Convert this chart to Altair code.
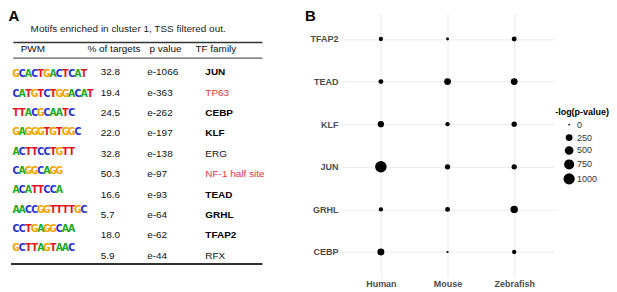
import altair as alt
import pandas as pd

# ---------------- Panel A data (table) ----------------
table_title = "Motifs enriched in cluster 1, TSS filtered out."
header_labels = ["PWM", "% of targets", "p value", "TF family"]
motif_consensus = ["GCACTGACTCAT", "CATGTCTGGACAT", "TTACGCAATC", "GAGGGTGTGGC",
                   "ACTTCCTGTT", "CAGGCAGG", "ACATTCCA", "AACCGGTTTTGC",
                   "CCTGAGGCAA", "GCTTAGTAAC"]
pct_targets = ["32.8", "19.4", "24.5", "22.0", "32.8", "50.3", "16.6", "5.7", "18.0", "5.9"]
p_values = ["e-1066", "e-363", "e-262", "e-197", "e-138", "e-97", "e-93", "e-64", "e-62", "e-44"]
tf_family = ["JUN", "TP63", "CEBP", "KLF", "ERG", "NF-1 half site", "TEAD", "GRHL", "TFAP2", "RFX"]
family_style = ["bold", "red", "bold", "bold", "plain", "red", "bold", "bold", "bold", "plain"]
nucleotides = ["A", "C", "G", "T"]

# ---------------- Panel B data (dot plot) ----------------
species = ["Human", "Mouse", "Zebrafish"]
families_b = ["TFAP2", "TEAD", "KLF", "JUN", "GRHL", "CEBP"]
human_nlp = [62, 93, 197, 1066, 64, 262]
mouse_nlp = [15, 247, 64, 120, 96, 4]
zebrafish_nlp = [96, 247, 120, 120, 317, 64]
legend_values = [0, 250, 500, 750, 1000]

# ---------------- layout / style ----------------
FONT = "Liberation Sans"
LOGO_FONT = "Liberation Sans Narrow, DejaVu Sans Condensed, Arial Narrow, sans-serif"
LEFT_W, PLOT_H, RIGHT_W = 297, 265, 214
header_x = [12.7, 79.7, 142, 188]
pct_x, pval_x, fam_x = 93, 139.7, 198
title_x, title_row, header_row = 22.7, -2.112, -1.134
rule_rows = [-1.457, -0.694, 9.413]
rule_spans = [(5.3, 255.3), (5.3, 255.3), (3, 255.3)]
rule_widths = [1.6, 1.0, 2.0]
nuc_colors = ["#22a822", "#1f2fd6", "#f5a300", "#e3151d"]
red = "#e8353d"

x_tab = alt.Scale(domain=[0, LEFT_W], nice=False, zero=False)
y_tab = alt.Scale(domain=[-2.885, 10.073], reverse=True, nice=False, zero=False)
x_logo = alt.Scale(domain=[-1.306, 46.6], nice=False, zero=False)
y_logo = alt.Scale(domain=[-3.144, 10.515], reverse=True, nice=False, zero=False)

def X(f, s=x_tab):
    return alt.X(f, scale=s, axis=None)

def Y(f, s=y_tab):
    return alt.Y(f, scale=s, axis=None)

# title (carries the "A" panel label as its axis title)
title_df = pd.DataFrame({"x": [title_x], "y": [title_row], "t": [table_title]})
title_layer = alt.Chart(title_df).mark_text(align="left", baseline="middle", fontSize=10,
                                            color="#222222", font=FONT).encode(
    x=X("x:Q"),
    y=alt.Y("y:Q", scale=y_tab, axis=alt.Axis(
        title="A", labels=False, ticks=False, domain=False, grid=False,
        titleAngle=0, titleAlign="left", titleBaseline="top", titleX=0, titleY=-4.5,
        titleFontSize=15, titleFontWeight="bold", titleColor="black", titleFont=FONT)),
    text="t:N")

header_df = pd.DataFrame({"x": header_x, "y": [header_row] * 4, "t": header_labels})
header_layer = alt.Chart(header_df).mark_text(align="left", baseline="middle", fontSize=10,
                                              color="#111111", font=FONT).encode(
    x=X("x:Q"), y=Y("y:Q"), text="t:N")

rows = list(range(len(tf_family)))
vals_df = pd.DataFrame({
    "x": [pct_x] * len(rows) + [pval_x] * len(rows),
    "y": rows + rows,
    "t": pct_targets + p_values})
vals_layer = alt.Chart(vals_df).mark_text(align="left", baseline="middle", fontSize=10,
                                          color="#111111", font=FONT).encode(
    x=X("x:Q"), y=Y("y:Q"), text="t:N")

fam_df = pd.DataFrame({"x": [fam_x] * len(rows), "y": rows, "t": tf_family, "s": family_style})
fam_bold = alt.Chart(fam_df).transform_filter(alt.datum.s == "bold").mark_text(
    align="left", baseline="middle", fontSize=10, fontWeight="bold", color="black", font=FONT
).encode(x=X("x:Q"), y=Y("y:Q"), text="t:N")
fam_plain = alt.Chart(fam_df).transform_filter(alt.datum.s != "bold").mark_text(
    align="left", baseline="middle", fontSize=10, font=FONT
).encode(x=X("x:Q"), y=Y("y:Q"), text="t:N",
         color=alt.Color("s:N", scale=alt.Scale(domain=["red", "plain"], range=[red, "#111111"]),
                         legend=None))

rule_layers = []
for (x1, x2), yv, w in zip(rule_spans, rule_rows, rule_widths):
    rdf = pd.DataFrame({"x": [x1], "x2": [x2], "y": [yv]})
    rule_layers.append(alt.Chart(rdf).mark_rule(color="#333333", strokeWidth=w).encode(
        x=X("x:Q"), x2="x2:Q", y=Y("y:Q")))

logo_rows = []
for r, seq in enumerate(motif_consensus):
    for i, ch in enumerate(seq):
        logo_rows.append({"li": i, "lr": r, "nt": ch})
logo_df = pd.DataFrame(logo_rows)
logo_layer = alt.Chart(logo_df).mark_text(baseline="middle", align="center", fontSize=10.5,
                                          fontWeight="bold", font=LOGO_FONT).encode(
    x=alt.X("li:Q", scale=x_logo, axis=None),
    y=alt.Y("lr:Q", scale=y_logo, axis=None),
    text="nt:N",
    color=alt.Color("nt:N", scale=alt.Scale(domain=nucleotides, range=nuc_colors), legend=None))

left = alt.layer(title_layer, header_layer, vals_layer, fam_bold, fam_plain,
                 *rule_layers, logo_layer).resolve_scale(
    x="independent", y="independent", color="independent").properties(
    width=LEFT_W, height=PLOT_H)

# ---------------- Panel B ----------------
dot_df = pd.DataFrame({
    "species": [s for s in species for _ in families_b],
    "family": families_b * len(species),
    "nlp": human_nlp + mouse_nlp + zebrafish_nlp})

right = alt.Chart(dot_df).mark_circle(color="black", opacity=1).encode(
    x=alt.X("species:N", scale=alt.Scale(domain=species, padding=0.6),
            axis=alt.Axis(title=None, labelAngle=0, labelFontWeight="bold", labelColor="#4d4d4d",
                          labelFontSize=9, labelFont=FONT, ticks=False, domain=False,
                          grid=True, gridColor="#ebebeb", gridWidth=1, labelPadding=2)),
    y=alt.Y("family:N", scale=alt.Scale(domain=families_b, padding=0.6),
            axis=alt.Axis(title="B", labelFontWeight="bold", labelColor="#4d4d4d",
                          labelFontSize=9, labelFont=FONT, ticks=False, domain=False,
                          grid=True, gridColor="#ebebeb", gridWidth=1, labelPadding=3,
                          titleAngle=0, titleAlign="left", titleBaseline="top",
                          titleX=-36.5, titleY=-4.5, titleFontSize=15, titleFontWeight="bold",
                          titleColor="black", titleFont=FONT)),
    size=alt.Size("nlp:Q", scale=alt.Scale(type="pow", exponent=0.75, domain=[0, 1066],
                                           range=[3, 133], zero=False, nice=False),
                  legend=alt.Legend(title="-log(p-value)", values=legend_values, format="d",
                                    orient="none", legendX=549, legendY=95, titleFontSize=9,
                                    titleFontWeight="bold", titleColor="black", titleFont=FONT,
                                    labelFontSize=9, labelColor="#333333", labelFont=FONT,
                                    symbolFillColor="black", symbolStrokeWidth=0,
                                    symbolOpacity=1, titlePadding=3, rowPadding=3,
                                    labelOffset=2, symbolOffset=8, padding=0))
).properties(width=RIGHT_W, height=PLOT_H)

chart = alt.hconcat(left, right, spacing=0).properties(
    padding=0, background="white"
).configure(font=FONT).configure_view(strokeWidth=0, stroke="transparent")

chart.save("out.html", embed_options={"renderer": "svg", "actions": False})
